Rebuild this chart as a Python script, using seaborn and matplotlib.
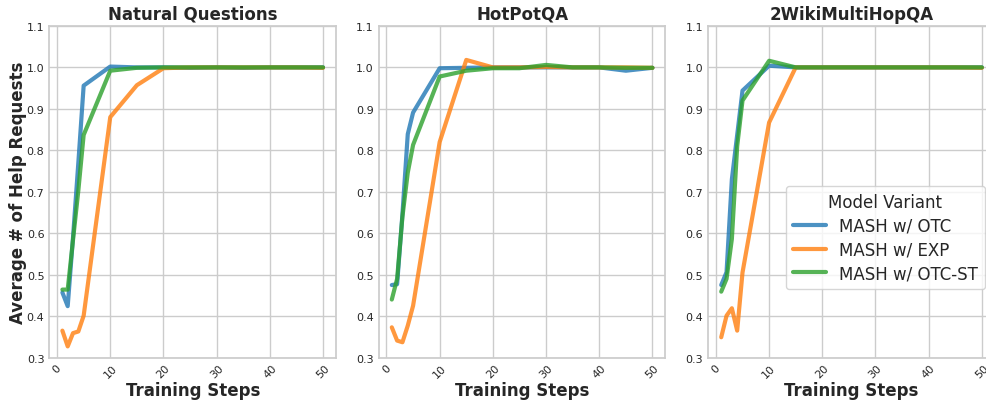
import numpy as np
import pandas as pd
import matplotlib
matplotlib.use("Agg")
import matplotlib.pyplot as plt
import seaborn as sns

steps = [1, 2, 3, 4, 5, 10, 15, 20, 25, 30, 35, 40, 45, 50]
datasets = ["Natural Questions", "HotPotQA", "2WikiMultiHopQA"]
variants = ["MASH w/ OTC", "MASH w/ EXP", "MASH w/ OTC-ST"]

# Natural Questions
nq_otc = [0.457, 0.424, 0.59, 0.77, 0.956, 1.002, 1.0, 1.0, 0.999, 1.0, 0.999, 1.0, 1.0, 1.0]
nq_exp = [0.365, 0.327, 0.359, 0.363, 0.401, 0.880, 0.957, 0.998, 1.0, 1.0, 1.0, 1.0, 1.0, 0.999]
nq_st = [0.464, 0.464, 0.584, 0.703, 0.837, 0.992, 0.999, 1.0, 1.0, 1.0, 1.0, 1.0, 1.0, 1.0]

# HotPotQA
hp_otc = [0.475, 0.477, 0.646, 0.839, 0.891, 0.998, 0.999, 1.0, 1.0, 1.0, 1.0, 1.0, 0.992, 0.999]
hp_exp = [0.373, 0.341, 0.337, 0.377, 0.425, 0.820, 1.018, 1.0, 1.0, 1.001, 1.0, 1.0, 1.0, 0.999]
hp_st = [0.440, 0.490, 0.640, 0.746, 0.813, 0.978, 0.992, 0.998, 0.998, 1.006, 1.0, 1.0, 0.999, 0.999]

# 2WikiMultiHopQA
wk_otc = [0.475, 0.506, 0.73, 0.837, 0.944, 1.004, 1.0, 1.0, 1.0, 1.0, 1.0, 1.0, 1.0, 1.0]
wk_exp = [0.349, 0.401, 0.419, 0.365, 0.505, 0.867, 1.0, 1.0, 1.0, 1.0, 1.0, 1.0, 1.0, 0.999]
wk_st = [0.459, 0.490, 0.586, 0.81, 0.92, 1.016, 1.0, 1.0, 1.0, 1.0, 1.0, 1.0, 1.0, 1.0]

values = {
    "Natural Questions": [nq_otc, nq_exp, nq_st],
    "HotPotQA": [hp_otc, hp_exp, hp_st],
    "2WikiMultiHopQA": [wk_otc, wk_exp, wk_st],
}

rows = []
for ds in datasets:
    for v, series in zip(variants, values[ds]):
        for s, y in zip(steps, series):
            rows.append({"Dataset": ds, "Model Variant": v, "Step": s, "Help": y})
df = pd.DataFrame(rows)

sns.set_theme(style="whitegrid")
plt.rcParams["font.family"] = ["DejaVu Sans"]

palette = dict(zip(variants, sns.color_palette("tab10", 3)))

fig, axes = plt.subplots(1, 3, figsize=(9.87, 4.02), dpi=100)
fig.subplots_adjust(left=0.05, right=1.008, bottom=0.108, top=0.933, wspace=0.149)

for i, (ax, ds) in enumerate(zip(axes, datasets)):
    sub = df[df["Dataset"] == ds]
    sns.lineplot(data=sub, x="Step", y="Help", hue="Model Variant", palette=palette,
                 linewidth=3, alpha=0.8, ax=ax, legend=(i == 2))
    ax.set_title(ds, fontsize=12, fontweight="bold", pad=5)
    ax.set_xlabel("Training Steps", fontsize=12, fontweight="bold", labelpad=1)
    ax.set_ylabel("Average # of Help Requests" if i == 0 else "", fontsize=12,
                  fontweight="bold", labelpad=0)
    ax.set_ylim(0.3, 1.1)
    ax.set_yticks(np.arange(0.3, 1.11, 0.1))
    ax.set_xticks([0, 10, 20, 30, 40, 50])
    ax.tick_params(axis="both", labelsize=8, length=0, pad=3.5)
    plt.setp(ax.get_xticklabels(), rotation=45)

leg = axes[2].legend(title="Model Variant", fontsize=12, title_fontsize=12,
                     loc="lower right", bbox_to_anchor=(0.965, 0.207), borderaxespad=0,
                     labelspacing=0.35)
for line in leg.get_lines():
    line.set_linewidth(3)

plt.savefig("out.png", dpi=100)
